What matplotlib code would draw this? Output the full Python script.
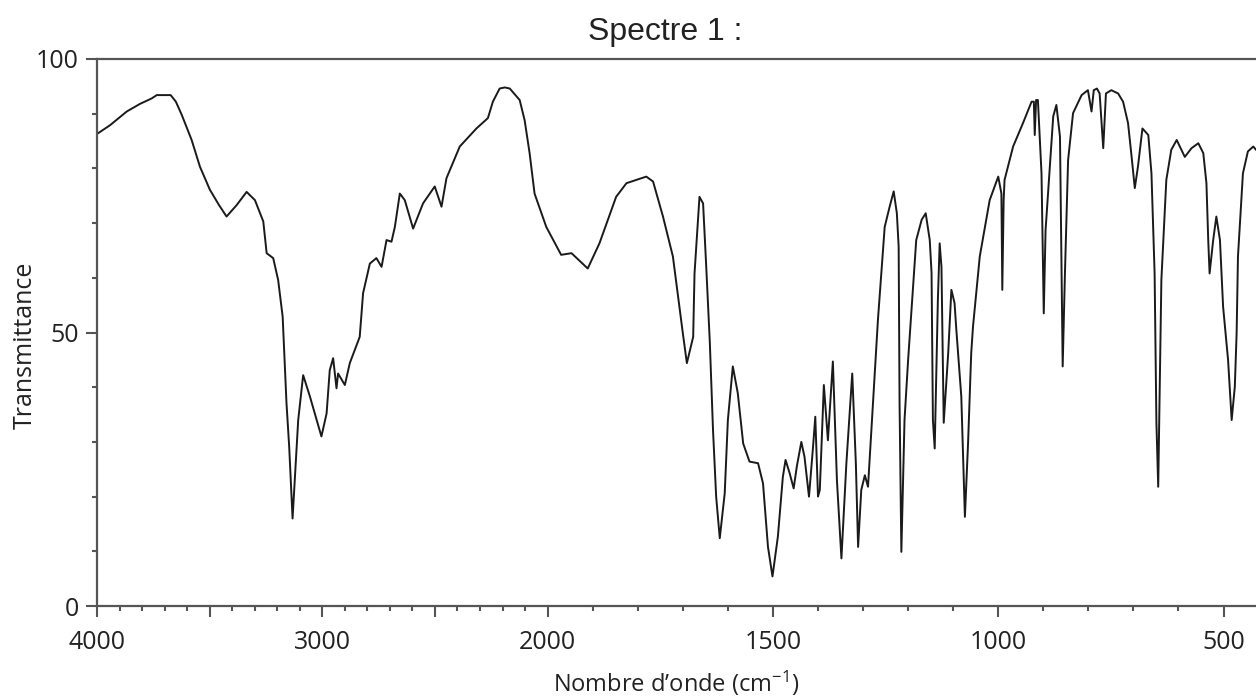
import numpy as np
import matplotlib
matplotlib.use("Agg")
import matplotlib.pyplot as plt
from matplotlib.ticker import FixedLocator, FuncFormatter

# ---- data ----
wavenumber = [4000, 3942, 3868, 3809, 3757, 3735, 3673, 3650, 3624, 3580, 3543, 3499, 3460, 3425,
              3380, 3336, 3299, 3262, 3247, 3218, 3196, 3176, 3159, 3147, 3132, 3107, 3085,
              3055, 3004, 2981, 2967, 2952, 2937, 2930, 2900, 2878, 2834, 2819, 2789,
              2760, 2737, 2715, 2693, 2678, 2656, 2634, 2597, 2553, 2501, 2471, 2449,
              2390, 2316, 2265, 2243, 2213, 2190, 2168, 2124, 2102, 2080, 2058, 2006,
              1970, 1947, 1911, 1885, 1848, 1825, 1781, 1766, 1744, 1722, 1700, 1691,
              1677, 1674, 1663, 1655, 1648, 1640, 1633, 1626, 1618, 1607, 1600, 1589,
              1578, 1566, 1552, 1533, 1522, 1511, 1501, 1489, 1478, 1472, 1463, 1454,
              1447, 1437, 1430, 1420, 1411, 1406, 1400, 1396, 1387, 1378, 1367, 1358,
              1348, 1337, 1324, 1316, 1311, 1304, 1296, 1289, 1281, 1267, 1252, 1241,
              1232, 1225, 1221, 1219, 1215, 1208, 1200, 1196, 1182, 1170, 1161, 1152,
              1148, 1145, 1141, 1134, 1130, 1126, 1121, 1111, 1104, 1097, 1093, 1082,
              1074, 1067, 1060, 1056, 1041, 1019, 1000, 993, 991, 988, 986, 967, 945,
              926, 921, 919, 916, 912, 904, 899, 895, 889, 878, 871, 863, 857, 852,
              845, 834, 815, 801, 793, 788, 781, 775, 767, 761, 749, 734, 723, 712,
              704, 697, 690, 680, 667, 660, 653, 649, 645, 642, 638, 627, 616, 604,
              586, 571, 556, 545, 538, 534, 531, 523, 516, 508, 501, 490, 482, 475,
              471, 468, 457, 446, 434, 428, 420]
transmittance = [86.3, 87.9, 90.4, 91.8, 92.8, 93.4, 93.4, 92.2, 89.8, 85.2, 80.3, 76.1, 73.4, 71.2,
                 73.3, 75.7, 74.2, 70.3, 64.5, 63.6, 59.6, 52.9, 37.1, 29.1, 16.0, 34.0, 42.2,
                 38.3, 31.0, 35.2, 43.1, 45.3, 39.8, 42.5, 40.4, 44.4, 49.2, 57.2, 62.6,
                 63.6, 62.0, 66.9, 66.6, 69.3, 75.4, 74.2, 69.0, 73.6, 76.7, 73.0, 78.2,
                 84.0, 87.3, 89.2, 92.2, 94.6, 94.8, 94.6, 92.5, 88.8, 82.8, 75.4, 69.3,
                 64.2, 64.5, 61.7, 66.3, 74.8, 77.3, 78.5, 77.6, 71.2, 63.9, 49.9, 44.4,
                 49.2, 60.8, 74.8, 73.6, 62.0, 48.1, 32.2, 20.0, 12.4, 20.6, 34.0, 43.8,
                 38.9, 29.7, 26.4, 26.1, 22.4, 10.8, 5.4, 12.7, 23.6, 26.7, 24.3, 21.5,
                 25.5, 30.0, 27.3, 20.0, 29.1, 34.6, 20.0, 21.2, 40.4, 30.3, 44.7, 23.0,
                 8.7, 26.1, 42.5, 26.1, 10.8, 21.2, 23.9, 21.8, 32.8, 52.3, 69.3, 73.0,
                 75.8, 71.8, 65.7, 37.1, 9.9, 34.0, 45.0, 49.9, 66.9, 70.6, 71.8, 66.9,
                 60.9, 34.0, 28.8, 55.9, 66.3, 62.0, 33.5, 46.3, 57.8, 55.4, 50.5, 38.3,
                 16.3, 29.7, 46.2, 51.1, 63.9, 74.2, 78.5, 75.4, 57.8, 74.2, 77.9, 84.0, 88.3,
                 92.2, 92.2, 86.1, 92.5, 92.5, 79.1, 53.5, 68.7, 76.1, 89.5, 91.6, 85.8, 43.8, 60.8,
                 81.5, 90.1, 93.4, 94.3, 90.4, 94.3, 94.6, 93.7, 83.7, 93.7, 94.3, 93.7, 92.2, 88.3,
                 82.1, 76.4, 80.3, 87.3, 86.1, 79.1, 60.8, 33.5, 21.8, 38.3, 59.6, 77.9, 83.4, 85.2,
                 82.1, 83.7, 84.6, 82.8, 77.3, 66.9, 60.8, 66.9, 71.2, 66.9, 54.7, 45.0, 34.0, 40.1,
                 49.9, 63.9, 79.1, 83.1, 84.0, 83.4, 83.0]

x_major = [4000, 3500, 3000, 2500, 2000, 1500, 1000, 500]
x_labels = {4000: "4000", 3000: "3000", 2000: "2000", 1500: "1500", 1000: "1000", 500: "500"}
x_minor = [v for v in range(4000, 399, -100) if v not in x_major]
y_major = [0, 50, 100]
y_minor = [10, 20, 30, 40, 60, 70, 80, 90]

# ---- IR split scale: 2000-4000 compressed by a factor 2 ----
def forward(x):
    x = np.asarray(x, dtype=float)
    return np.where(x > 2000, 2000 + (x - 2000) / 2.0, x)

def inverse(u):
    u = np.asarray(u, dtype=float)
    return np.where(u > 2000, 2000 + 2.0 * (u - 2000), u)

plt.rcParams['mathtext.fontset'] = 'custom'
plt.rcParams['mathtext.rm'] = 'Open Sans'
plt.rcParams['mathtext.it'] = 'Open Sans'

fig = plt.figure(figsize=(12.56, 6.99), dpi=100)
ax = fig.add_axes([97 / 1256, 93 / 699, 1 - 97 / 1256, 547 / 699])
ax.set_xscale('function', functions=(forward, inverse))

ax.plot(wavenumber, transmittance, color='#1a1a1a', lw=1.4)

ax.set_xlim(4000, 428)
ax.set_ylim(0, 100)

spine_col = '#555555'
for s in ['left', 'bottom', 'top']:
    ax.spines[s].set_color(spine_col)
    ax.spines[s].set_linewidth(1.6)
ax.spines['right'].set_visible(False)

ax.xaxis.set_major_locator(FixedLocator(x_major))
ax.xaxis.set_minor_locator(FixedLocator(x_minor))
ax.xaxis.set_major_formatter(FuncFormatter(lambda v, p: x_labels.get(int(round(v)), "")))
ax.xaxis.set_minor_formatter(FuncFormatter(lambda v, p: ""))
ax.yaxis.set_major_locator(FixedLocator(y_major))
ax.yaxis.set_minor_locator(FixedLocator(y_minor))

ax.tick_params(axis='both', which='major', length=8, width=1.5, color=spine_col,
               labelsize=18, labelcolor='#222222')
ax.tick_params(axis='both', which='minor', length=3.5, width=1.5, color=spine_col)
ax.tick_params(axis='x', which='major', pad=9)
ax.tick_params(axis='y', which='major', pad=5)
ax.tick_params(top=False, right=False)
for lab in ax.get_xticklabels() + ax.get_yticklabels():
    lab.set_fontfamily('Open Sans')

ax.set_xlabel("Nombre d\u2019onde (cm$^{-1}$)", fontfamily='Open Sans', fontsize=17, color='#222222')
ax.set_ylabel("Transmittance", fontfamily='Open Sans', fontsize=18, color='#222222')
ax.xaxis.set_label_coords(0.5, -0.115)
ax.yaxis.set_label_coords(-0.051, 0.477)

fig.text(665 / 1256, 1 - 32 / 699, "Spectre 1 :", fontfamily='Liberation Sans', fontsize=23,
         ha='center', va='center', color='#222222')

fig.savefig("out.png", dpi=100)
